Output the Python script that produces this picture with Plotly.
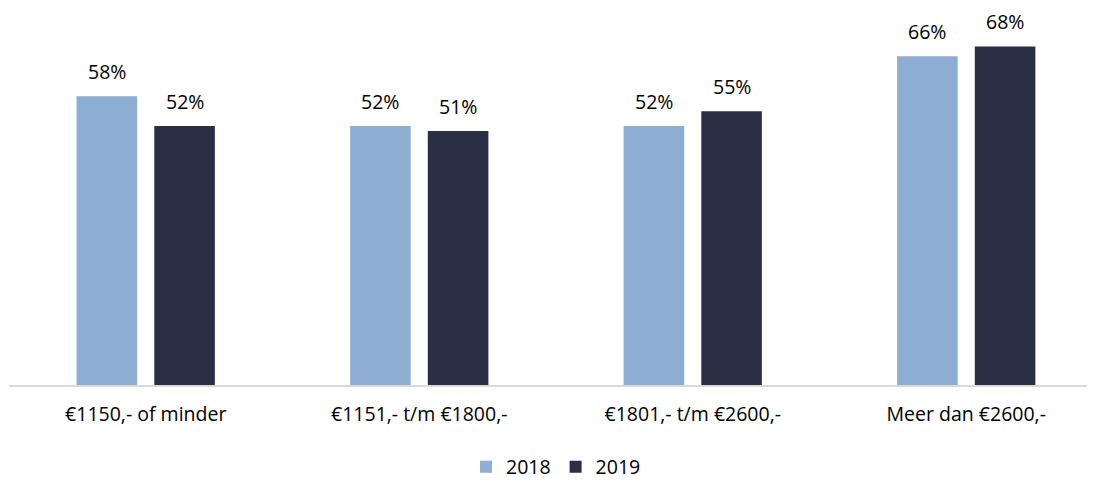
import plotly.graph_objects as go

categories = ["€1150,- of minder", "€1151,- t/m €1800,-", "€1801,- t/m €2600,-", "Meer dan €2600,-"]
values_2018 = [58, 52, 52, 66]
values_2019 = [52, 51, 55, 68]
series_names = ["2018", "2019"]
colors = ["#8EADD3", "#2A2F45"]
label_xshift = [-39, 39]

FONT = "'Open Sans', sans-serif"
FS = 19.5

fig = go.Figure()
for name, vals, col in zip(series_names, [values_2018, values_2019], colors):
    fig.add_trace(go.Bar(
        x=categories, y=vals, name=name, marker_color=col, marker_line_width=0,
    ))

annotations = []
for vals, dx in zip([values_2018, values_2019], label_xshift):
    for c, v in zip(categories, vals):
        annotations.append(dict(
            x=c, y=v, xref="x", yref="y", text=f"{v}%", showarrow=False,
            xshift=dx, yshift=25, yanchor="middle",
            font=dict(family=FONT, size=FS, color="#000000"),
        ))

fig.update_layout(
    width=1095, height=481,
    margin=dict(l=1, r=0, t=12, b=104),
    paper_bgcolor="white", plot_bgcolor="white",
    font=dict(family=FONT, size=FS, color="#000000"),
    barmode="group", bargap=0.432, bargroupgap=0.22,
    showlegend=True,
    legend=dict(orientation="h", x=0.5, xanchor="center", y=-0.225, yanchor="middle",
                font=dict(size=FS), itemwidth=30, traceorder="normal"),
    xaxis=dict(range=[-0.5, 3.5], showline=True, linecolor="#D9D9D9", linewidth=2,
               ticks="outside", ticklen=11, tickcolor="rgba(0,0,0,0)", tickfont=dict(size=FS),
               automargin=False),
    yaxis=dict(range=[0, 73.3], visible=False, showgrid=False, zeroline=False),
    annotations=annotations,
)

fig.write_html("out.html")
